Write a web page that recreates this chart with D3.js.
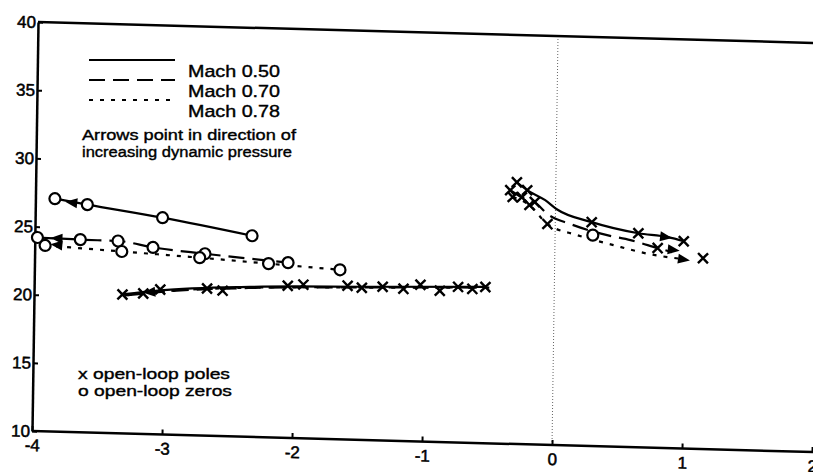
<!DOCTYPE html>
<html>
<head>
<meta charset="utf-8">
<script src="https://cdn.jsdelivr.net/npm/d3@7"></script>
<style>
  body { margin: 0; background: #fff; }
  text { font-family: "Liberation Sans", Arial, Helvetica, sans-serif; fill: #000; }
</style>
</head>
<body>
<svg id="chart" width="813" height="472"></svg>
<script>
const xTicks = [-4, -3, -2, -1, 0, 1, 2];
const yTicks = [10, 15, 20, 25, 30, 35, 40];
const machNames = ['Mach 0.50', 'Mach 0.70', 'Mach 0.78'];
const noteLines = ['Arrows point in direction of', 'increasing dynamic pressure'];
const markerNotes = ['x open-loop poles', 'o open-loop zeros'];

// open-loop zeros (o), left group
const zeroX50 = [-3.85, -3.6, -3.02, -2.33];
const zeroY50 = [27.08, 26.71, 25.9, 24.75];
const zeroX70 = [-3.98, -3.65, -3.36, -3.09, -2.69, -2.05];
const zeroY70 = [24.2, 24.13, 24.1, 23.7, 23.34, 22.85];
const zeroX78 = [-3.92, -3.33, -2.73, -2.2, -1.65];
const zeroY78 = [23.63, 23.34, 23.04, 22.74, 22.43];
// a zero sitting in the right group
const zeroRX70 = [0.29];
const zeroRY70 = [25.47];

// pole trajectories, left group
const poleLX50 = [-3.32, -3.03, -2.34, -1.44, -0.53];
const poleLY50 = [20.19, 20.56, 21.0, 21.24, 21.46];
const poleLX70 = [-3.3, -3.0, -2.3, -1.4, -0.5];
const poleLY70 = [20.12, 20.48, 20.94, 21.2, 21.42];
const poleLX78 = [-3.28, -2.98, -2.3, -1.45, -0.6];
const poleLY78 = [20.15, 20.52, 20.96, 21.18, 21.38];

// pole trajectories, right group
const poleRX50 = [-0.3, -0.22, -0.08, 0.01, 0.28, 0.64, 0.87, 0.99];
const poleRY50 = [29.2, 28.64, 27.94, 27.3, 26.42, 25.7, 25.47, 25.2];
const poleRX70 = [-0.35, -0.26, -0.16, -0.06, 0.12, 0.4, 0.58, 0.79, 0.9];
const poleRY70 = [28.6, 28.11, 27.78, 26.92, 26.23, 25.5, 25.18, 24.65, 24.38];
const poleRX78 = [-0.33, -0.2, -0.06, 0.17, 0.45, 0.73, 0.99];
const poleRY78 = [28.1, 27.55, 26.19, 25.44, 24.78, 24.19, 23.89];

// pole markers (x)
const poleMX50 = [-3.32, -2.67, -1.93, -1.32, -0.74, -0.3, -0.22, 0.28, 0.64, 0.99];
const poleMY50 = [20.19, 20.79, 21.27, 21.27, 21.41, 29.2, 28.64, 26.42, 25.7, 25.2];
const poleMX70 = [-3.16, -2.55, -1.59, -1.03, -0.53, -0.35, -0.26, -0.16, 0.79];
const poleMY70 = [20.3, 20.67, 21.28, 21.49, 21.46, 28.6, 28.11, 27.78, 24.65];
const poleMX78 = [-3.03, -2.05, -1.48, -1.16, -0.88, -0.63, -0.33, -0.2, -0.06, 1.14];
const poleMY78 = [20.63, 21.16, 21.16, 21.16, 21.09, 21.29, 28.1, 27.55, 26.19, 24.0];

// arrowheads: tip and a point behind it on the same curve
const arrowTipX = [-3.77, -3.88, -3.88, -3.16, 0.9, 0.96, 1.04];
const arrowTipY = [26.88, 24.18, 23.72, 20.35, 25.42, 24.5, 23.8];
const arrowTailX = [-3.6, -3.65, -3.33, -2.9, 0.64, 0.79, 0.73];
const arrowTailY = [26.71, 24.13, 23.34, 20.65, 25.7, 24.65, 24.19];

const zip = (xs, ys) => xs.map((v, i) => [v, ys[i]]);

const svg = d3.select('#chart');
const x = d3.scaleLinear().domain([-4, 2]).range([32, 812]);
const y = d3.scaleLinear().domain([10, 40]).range([431, 22]);

// the scanned figure is slightly sheared, follow it
const plot = svg.append('g')
  .attr('transform', 'translate(32,431) matrix(1,0.027,-0.0147,1,0,0) translate(-32,-431)');

const font = '"Liberation Sans", Arial, Helvetica, sans-serif';

// zero line (dotted, faint)
plot.append('line')
  .attr('x1', x(0)).attr('x2', x(0))
  .attr('y1', y(10)).attr('y2', y(40))
  .attr('stroke', '#666').attr('stroke-width', 1)
  .attr('stroke-dasharray', '1,2');

// top border
plot.append('line')
  .attr('x1', x(-4)).attr('x2', x(2) + 20)
  .attr('y1', y(40)).attr('y2', y(40))
  .attr('stroke', '#000').attr('stroke-width', 2.5);

const xAxis = plot.append('g')
  .attr('transform', `translate(0,${y(10)})`)
  .call(d3.axisBottom(x).tickValues(xTicks).tickSize(-5).tickSizeOuter(0)
    .tickPadding(8).tickFormat(d => String(d)));

const yAxis = plot.append('g')
  .attr('transform', `translate(${x(-4)},0)`)
  .call(d3.axisLeft(y).tickValues(yTicks).tickSize(-5).tickSizeOuter(0)
    .tickPadding(2).tickFormat(d => String(d)));

[xAxis, yAxis].forEach(a => {
  a.attr('font-family', font).attr('font-size', 17);
  a.select('.domain').attr('stroke', '#000').attr('stroke-width', 2.5);
  a.selectAll('.tick line').attr('stroke', '#000').attr('stroke-width', 2);
  a.selectAll('.tick text').attr('fill', '#000').attr('stroke', '#000').attr('stroke-width', 0.5);
});
xAxis.select('.domain').attr('d', `M${x(-4)},0H${x(2) + 20}`);

const dashes = [null, '16,8', '4,7'];
const line = d3.line().x(d => x(d[0])).y(d => y(d[1])).curve(d3.curveMonotoneX);

const trajectories = [
  [zip(zeroX50, zeroY50), zip(poleLX50, poleLY50), zip(poleRX50, poleRY50)],
  [zip(zeroX70, zeroY70), zip(poleLX70, poleLY70), zip(poleRX70, poleRY70)],
  [zip(zeroX78, zeroY78), zip(poleLX78, poleLY78), zip(poleRX78, poleRY78)]
];

trajectories.forEach((set, m) => {
  plot.selectAll(null)
    .data(set)
    .enter()
    .append('path')
    .attr('d', line)
    .attr('fill', 'none')
    .attr('stroke', '#000')
    .attr('stroke-width', 2.2)
    .attr('stroke-dasharray', dashes[m]);
});

// pole markers
const poles = [].concat(zip(poleMX50, poleMY50), zip(poleMX70, poleMY70), zip(poleMX78, poleMY78));
const s = 5;
plot.selectAll('.pole')
  .data(poles)
  .enter()
  .append('path')
  .attr('class', 'pole')
  .attr('d', d => {
    const px = x(d[0]), py = y(d[1]);
    return `M${px - s},${py - s}L${px + s},${py + s}M${px - s},${py + s}L${px + s},${py - s}`;
  })
  .attr('stroke', '#000')
  .attr('stroke-width', 2.4);

// zero markers
const zeros = [].concat(zip(zeroX50, zeroY50), zip(zeroX70, zeroY70), zip(zeroX78, zeroY78), zip(zeroRX70, zeroRY70));
plot.selectAll('.zero')
  .data(zeros)
  .enter()
  .append('circle')
  .attr('class', 'zero')
  .attr('cx', d => x(d[0]))
  .attr('cy', d => y(d[1]))
  .attr('r', 5.5)
  .attr('fill', '#fff')
  .attr('stroke', '#000')
  .attr('stroke-width', 2.2);

// arrowheads
plot.selectAll('.arrow')
  .data(arrowTipX.map((v, i) => i))
  .enter()
  .append('path')
  .attr('class', 'arrow')
  .attr('d', i => {
    const tx = x(arrowTipX[i]), ty = y(arrowTipY[i]);
    const bx = x(arrowTailX[i]), by = y(arrowTailY[i]);
    const a = Math.atan2(ty - by, tx - bx);
    const len = 12, w = 5;
    const cx = tx - len * Math.cos(a), cy = ty - len * Math.sin(a);
    return `M${tx},${ty}L${cx - w * Math.sin(a)},${cy + w * Math.cos(a)}L${cx + w * Math.sin(a)},${cy - w * Math.cos(a)}Z`;
  })
  .attr('fill', '#000');

// legend for the Mach numbers
const legend = svg.append('g');
const legendY = [60, 80, 100];
legend.selectAll('line')
  .data(machNames)
  .enter()
  .append('line')
  .attr('x1', 89).attr('x2', 175)
  .attr('y1', (d, i) => legendY[i]).attr('y2', (d, i) => legendY[i])
  .attr('stroke', '#000').attr('stroke-width', 2.2)
  .attr('stroke-dasharray', (d, i) => dashes[i]);
legend.selectAll('text')
  .data(machNames)
  .enter()
  .append('text')
  .attr('x', 188)
  .attr('y', (d, i) => legendY[i] + 17)
  .attr('font-size', 17)
  .attr('textLength', 92)
  .attr('lengthAdjust', 'spacingAndGlyphs')
  .attr('stroke', '#000').attr('stroke-width', 0.4)
  .text(d => d);

svg.selectAll('.note')
  .data(noteLines)
  .enter()
  .append('text')
  .attr('class', 'note')
  .attr('x', 82)
  .attr('y', (d, i) => 140 + i * 17)
  .attr('font-size', 15.5)
  .attr('textLength', (d, i) => [214, 210][i])
  .attr('lengthAdjust', 'spacingAndGlyphs')
  .attr('stroke', '#000').attr('stroke-width', 0.4)
  .text(d => d);

svg.selectAll('.mnote')
  .data(markerNotes)
  .enter()
  .append('text')
  .attr('class', 'mnote')
  .attr('x', 78)
  .attr('y', (d, i) => 379 + i * 17)
  .attr('font-size', 15.5)
  .attr('textLength', (d, i) => [152, 154][i])
  .attr('lengthAdjust', 'spacingAndGlyphs')
  .attr('stroke', '#000').attr('stroke-width', 0.4)
  .text(d => d);
</script>
</body>
</html>
